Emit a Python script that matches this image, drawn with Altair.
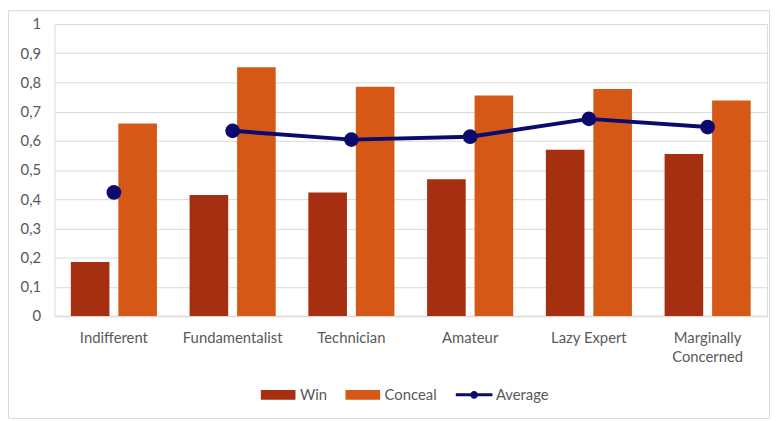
import altair as alt
import pandas as pd

# ---- data ----
categories = ["Indifferent", "Fundamentalist", "Technician", "Amateur", "Lazy Expert", "Marginally Concerned"]
win = [0.185, 0.414, 0.423, 0.468, 0.569, 0.555]
conceal = [0.659, 0.852, 0.785, 0.755, 0.777, 0.738]
average = [0.423, 0.634, 0.604, 0.614, 0.675, 0.647]
series = ["Win", "Conceal", "Average"]
y_ticks = [0, 0.1, 0.2, 0.3, 0.4, 0.5, 0.6, 0.7, 0.8, 0.9, 1]

colors = ["#A52F10", "#D55817", "#0B0B6E"]
FONT = "Lato"
TXT = "#595959"
GRID = "#D9D9D9"

PAD_L, PAD_T, PAD_R, PAD_B = 47, 14, 3, 104
W, H = 720, 295

bars_df = pd.DataFrame(
    [{"category": c, "series": "Win", "value": v} for c, v in zip(categories, win)]
    + [{"category": c, "series": "Conceal", "value": v} for c, v in zip(categories, conceal)]
)
avg_df = pd.DataFrame({"category": categories, "series": "Average", "value": average})
legend_df = pd.DataFrame({"series": series})

x_enc = alt.X(
    "category:N",
    sort=categories,
    title=None,
    scale=alt.Scale(paddingInner=0, paddingOuter=0),
    axis=alt.Axis(
        labelAngle=0,
        ticks=False,
        domainColor=GRID,
        domainWidth=1.5,
        labelPadding=15,
        labelFontSize=15,
        labelColor=TXT,
        labelFont=FONT,
        labelLineHeight=19,
        labelExpr="length(datum.label) > 15 ? split(datum.label, ' ') : datum.label",
    ),
)
y_enc = alt.Y(
    "value:Q",
    title=None,
    scale=alt.Scale(domain=[0, 1], nice=False),
    axis=alt.Axis(
        values=y_ticks,
        domain=False,
        ticks=False,
        gridColor=GRID,
        labelPadding=14,
        labelFontSize=15,
        labelColor=TXT,
        labelFont=FONT,
        labelOverlap=False,
        labelExpr="replace(toString(datum.value), '.', ',')",
    ),
)

bars = alt.Chart(bars_df).mark_bar().encode(
    x=x_enc,
    y=y_enc,
    xOffset=alt.XOffset("series:N", sort=["Win", "Conceal"],
                        scale=alt.Scale(paddingInner=0.1875, paddingOuter=0.34375)),
    fill=alt.Fill("series:N", scale=alt.Scale(domain=series[:2], range=colors[:2]), legend=None),
)

line = alt.Chart(avg_df).transform_filter(
    alt.datum.category != categories[0]  # first point is not connected in the reference
).mark_line(color=colors[2], strokeWidth=4).encode(
    x=x_enc,
    y=y_enc,
)

points = alt.Chart(avg_df).mark_point(filled=True, size=220, opacity=1, color=colors[2]).encode(
    x=x_enc,
    y=y_enc,
)

rect_path = "M-3.5,-1H3.5V1H-3.5Z"
line_path = "M-3.7,-0.3H3.7V0.3H-3.7Z M0.8,0A0.8,0.8 0 1,1 -0.8,0A0.8,0.8 0 1,1 0.8,0Z"

legend_props = dict(
    title=None,
    orient="none",
    direction="horizontal",
    legendX=218.5,
    legendY=367,
    padding=0,
    symbolSize=100,
    symbolStrokeWidth=0,
    symbolOpacity=1,
    labelOffset=14.5,
    columnPadding=18.5,
    labelFontSize=15,
    labelColor=TXT,
    labelFont=FONT,
)

legend_layer = alt.Chart(legend_df).mark_point(filled=True, opacity=0).encode(
    color=alt.Color("series:N", scale=alt.Scale(domain=series, range=colors),
                    legend=alt.Legend(**legend_props)),
    shape=alt.Shape("series:N", scale=alt.Scale(domain=series, range=[rect_path, rect_path, line_path]),
                    legend=alt.Legend(**legend_props)),
)

frame = alt.Chart(pd.DataFrame({"f": [0]})).mark_rect(
    fill=None, stroke=GRID, strokeWidth=1
).encode(
    x=alt.value(-PAD_L + 0.5),
    x2=alt.value(W + PAD_R - 0.5),
    y=alt.value(-PAD_T + 0.5),
    y2=alt.value(H + PAD_B - 0.5),
)

chart = alt.layer(frame, bars, line, points, legend_layer).properties(
    width=W,
    height=H,
    autosize=alt.AutoSizeParams(type="none"),
    padding={"left": PAD_L, "top": PAD_T, "right": PAD_R, "bottom": PAD_B},
).configure_view(stroke=None).configure(background="white")

chart.save("out.html", embed_options={"renderer": "svg", "actions": False})
